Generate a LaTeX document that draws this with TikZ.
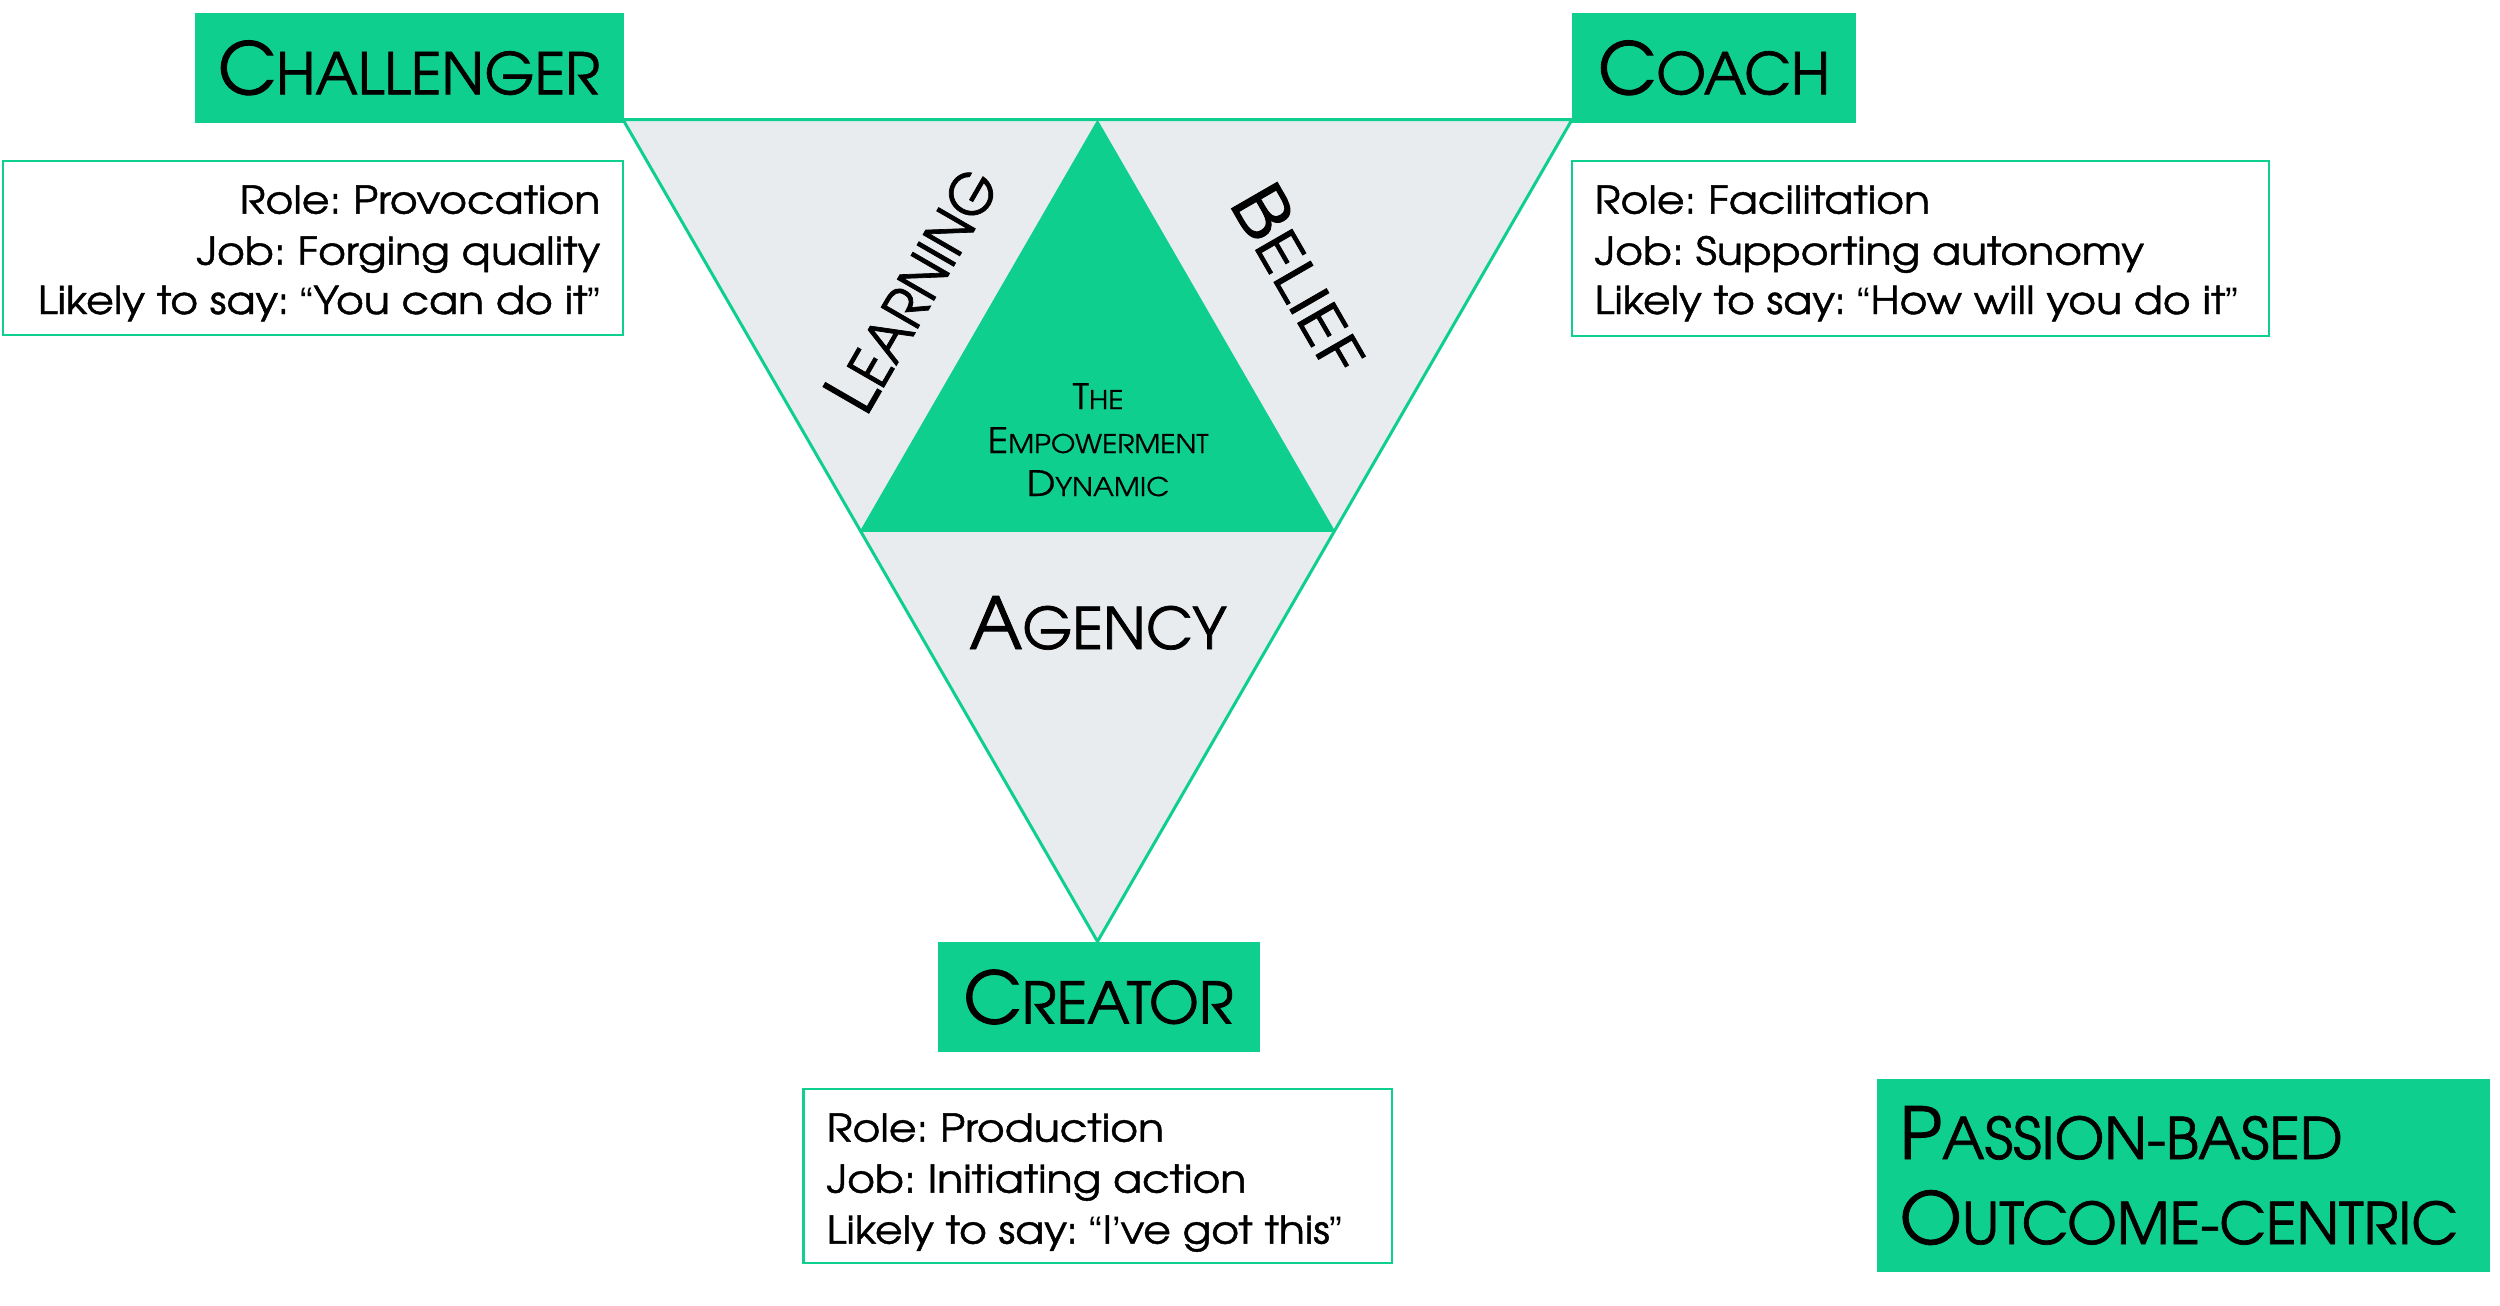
\documentclass[tikz,border=0pt]{standalone}
\usepackage{fontspec}
\setmainfont{texgyreadventor-regular.otf}[FakeBold=1.2]
\newfontfamily\qf{Liberation Sans}
\usetikzlibrary{calc}
\frenchspacing
\definecolor{tgreen}{HTML}{0FCF8F}
\definecolor{tgray}{HTML}{E8ECEF}
\newcommand\qopen{{\qf “}}
\newcommand\qclose{{\qf ”}}
\newcommand\qapos{{\qf ’}}
\newcommand\HSC[2]{{\fontsize{21.5}{26}\selectfont #1}{\fontsize{17.2}{26}\selectfont #2}}
\newcommand\MSC[2]{{\addfontfeatures{FakeStretch=1.1,FakeBold=0.5}{\fontsize{10.5}{13}\selectfont #1}{\fontsize{7.7}{13}\selectfont #2}}}
\tikzset{
  hdr/.style={fill=tgreen, inner sep=0pt, minimum height=33pt, text=black},
  info/.style={draw=tgreen, line width=0.8pt, fill=white, inner sep=0pt},
  body/.style={font=\fontsize{11.5}{15}\selectfont\addfontfeatures{FakeStretch=1.11}, inner sep=0pt, text=black},
  lbl/.style={inner sep=0pt, text=black},
  edge/.style={draw=tgreen, line width=0.9pt, line join=miter}
}
\begin{document}
\begin{tikzpicture}[x=0.3pt,y=-0.3pt]
\useasboundingbox (0,0) rectangle (2500,1306);
\coordinate (TL) at (623,119.6);
\coordinate (TR) at (1572,119.6);
\coordinate (BT) at (1097.5,941.5);
\coordinate (MT) at ($(TL)!0.5!(TR)$);
\coordinate (ML) at ($(TL)!0.5!(BT)$);
\coordinate (MR) at ($(TR)!0.5!(BT)$);
\fill[tgray] (TL) -- (TR) -- (BT) -- cycle;
\fill[tgreen] (MT) -- (ML) -- (MR) -- cycle;
\draw[edge] (ML) -- (MR);
\draw[edge] (TL) -- (TR) -- (BT) -- cycle;
% headers
\node[hdr, minimum width=128.7pt] (chal) at (409,67.8) {\HSC{C}{HALLENGER}};
\node[hdr, minimum width=85.2pt] (coach) at (1714,67.8) {\HSC{C}{OACH}};
\node[hdr, minimum width=96.6pt] (creator) at (1098.5,997) {\HSC{C}{REATOR}};
\node[hdr, minimum width=184pt, minimum height=57.9pt] (passion) at (2183.3,1175.5) {};
\node[lbl, anchor=base west] (p1) at (1899,1159) {\HSC{P}{ASSION-BASED}};
\node[lbl, anchor=base west] (p2) at (1899,1244) {\HSC{O}{UTCOME-CENTRIC}};
% info boxes
\node[info, minimum width=186pt, minimum height=52.2pt] (chalinfo) at (313,248) {};
\node[body, anchor=base east] (c1) at (601,213.6) {Role: Provocation};
\node[body, anchor=base east] (c2) at (601,264.7) {Job: Forging quality};
\node[body, anchor=base east] (c3) at (601,314) {Likely to say: \qopen You can do it\qclose};
\node[info, minimum width=209.1pt, minimum height=52.5pt] (coachinfo) at (1920.5,248.5) {};
\node[body, anchor=base west] (k1) at (1594,213.6) {Role: Facilitation};
\node[body, anchor=base west] (k2) at (1594,264.7) {Job: Supporting autonomy};
\node[body, anchor=base west] (k3) at (1594,314) {Likely to say: \qopen How will you do it\qclose};
\node[info, minimum width=176.5pt, minimum height=52.2pt] (creinfo) at (1097.8,1176) {};
\node[body, anchor=base west] (r1) at (826,1141.6) {Role: Production};
\node[body, anchor=base west] (r2) at (826,1192.6) {Job: Initiating action};
\node[body, anchor=base west] (r3) at (826,1243.6) {Likely to say: \qopen I\qapos ve got this\qclose};
% triangle labels
\node[lbl, rotate=60] (learn) at (911,288) {\addfontfeatures{FakeStretch=0.93}\HSC{L}{EARNING}};
\node[lbl, rotate=-60] (belief) at (1302,278) {\addfontfeatures{FakeStretch=1.2}\HSC{B}{ELIEF}};
\node[lbl, anchor=base] (agency) at (1098,649) {\HSC{A}{GENCY}};
\node[lbl, anchor=base] (t1) at (1098,409) {\MSC{T}{HE}};
\node[lbl, anchor=base] (t2) at (1098,453) {\MSC{E}{MPOWERMENT}};
\node[lbl, anchor=base] (t3) at (1098,496) {\MSC{D}{YNAMIC}};
\end{tikzpicture}
\end{document}
